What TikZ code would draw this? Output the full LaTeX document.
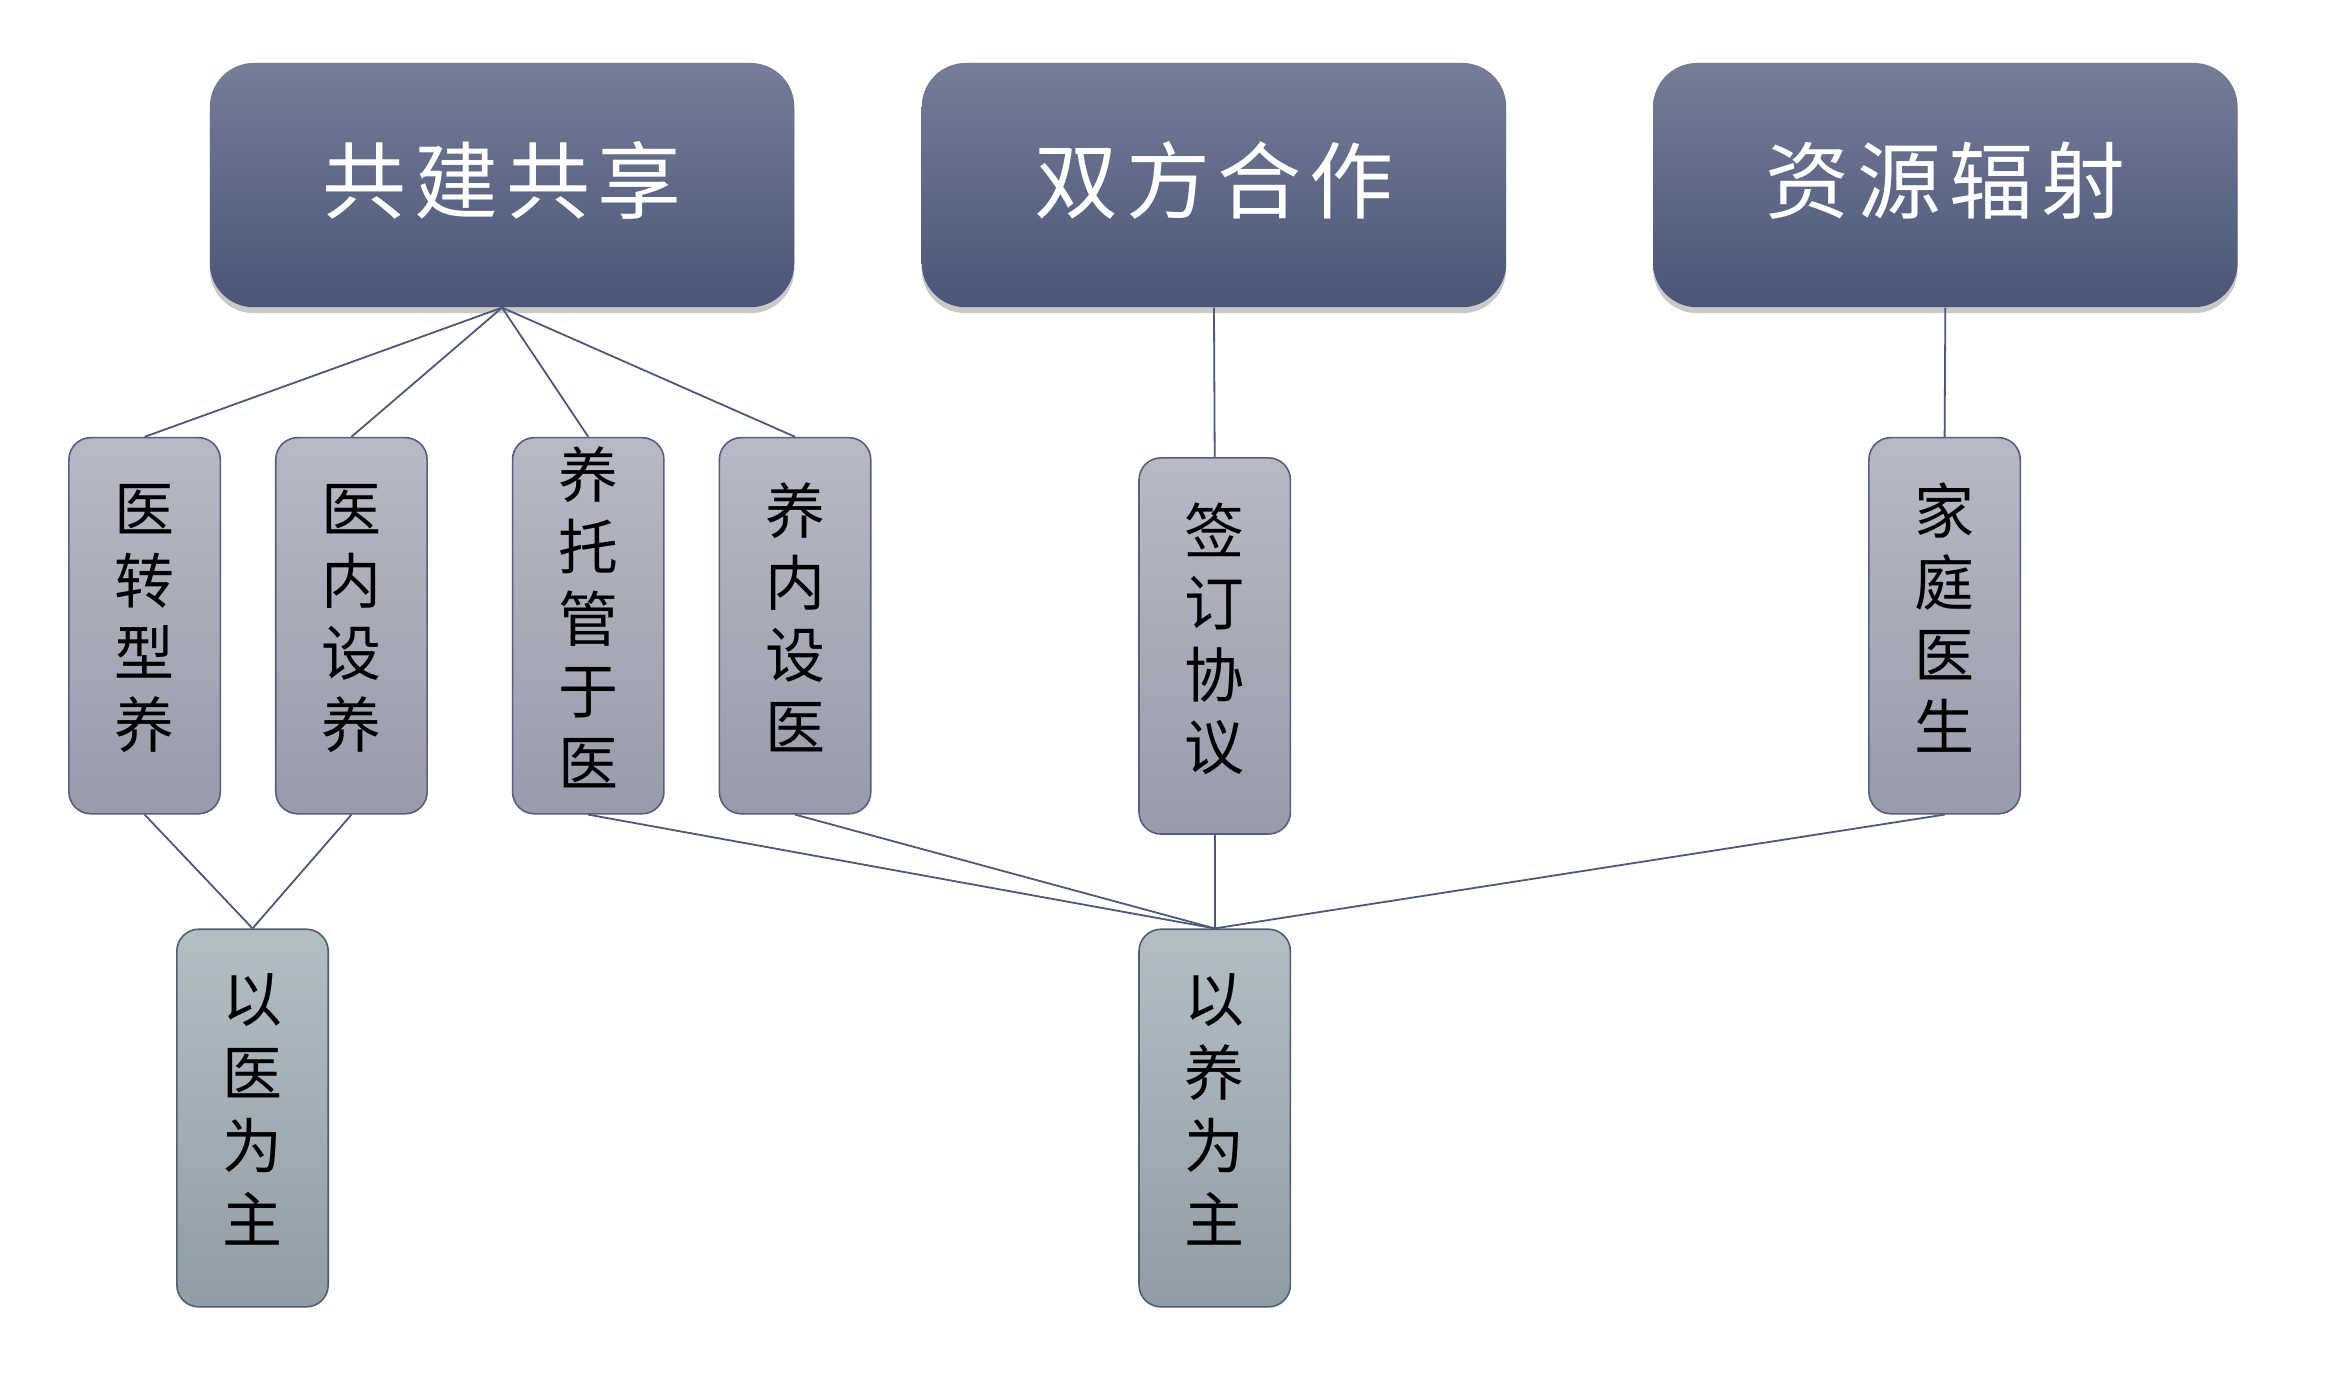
\documentclass[tikz,border=0pt]{standalone}
\usepackage{fontspec}
\newfontfamily\cjk{Noto Sans CJK SC}
\usetikzlibrary{shadows}
\definecolor{topA}{HTML}{757D97}
\definecolor{topB}{HTML}{4A5578}
\definecolor{midA}{HTML}{B7B9C5}
\definecolor{midB}{HTML}{989BAA}
\definecolor{botA}{HTML}{B3BDC4}
\definecolor{botB}{HTML}{919DA6}
\definecolor{midEdge}{HTML}{565F80}
\definecolor{botEdge}{HTML}{4E6070}
\definecolor{lineC}{HTML}{4E587A}
\tikzset{
  topbox/.style={rectangle, rounded corners=22pt, minimum width=292.5pt, minimum height=122.25pt,
    inner sep=0pt, top color=topA, bottom color=topB, draw=none,
    drop shadow={shadow xshift=0pt, shadow yshift=-3pt, opacity=0.35, fill=black!60},
    text=white, font=\cjk\fontsize{42}{50}\selectfont,
    execute at end node={\rule[-8pt]{0pt}{0pt}}},
  midbox/.style={rectangle, rounded corners=11pt, minimum width=75.75pt, minimum height=188.25pt,
    inner sep=0pt, top color=midA, bottom color=midB, draw=midEdge, line width=0.8pt,
    align=center, text=black, font=\cjk\fontsize{30}{36}\selectfont,
    execute at end node={\rule[-10pt]{0pt}{0pt}}},
  botbox/.style={midbox, top color=botA, bottom color=botB, draw=botEdge, minimum height=189pt,
    font=\cjk\fontsize{30}{36.8}\selectfont},
  conn/.style={draw=lineC, line width=0.9pt}
}
\newcommand{\ks}{\kern4pt}
\begin{document}
\begin{tikzpicture}[x=0.75pt,y=-0.75pt]
\fill[white] (0,0) rectangle (1568,916.8);
\useasboundingbox (0,0) rectangle (1568,916.8);

% top boxes
\node[topbox] (gj) at (335,123.5) {共\ks 建\ks 共\ks 享};
\node[topbox] (sf) at (810,123.5) {双\ks 方\ks 合\ks 作};
\node[topbox] (zy) at (1298,123.5) {资\ks 源\ks 辐\ks 射};

% middle boxes
\node[midbox] (m1) at (96.5,417.5) {医\\转\\型\\养};
\node[midbox] (m2) at (234.5,417.5) {医\\内\\设\\养};
\node[midbox] (m3) at (392.5,417.5) {养\\托\\管\\于\\医};
\node[midbox] (m4) at (530.5,417.5) {养\\内\\设\\医};
\node[midbox] (m5) at (810.5,431) {签\\订\\协\\议};
\node[midbox] (m6) at (1297.5,417.5) {家\\庭\\医\\生};

% bottom boxes
\node[botbox] (b1) at (168.5,746) {以\\医\\为\\主};
\node[botbox] (b2) at (810.5,746) {以\\养\\为\\主};

% connectors
\foreach \m in {m1,m2,m3,m4} \draw[conn] (gj.south) -- (\m.north);
\draw[conn] (sf.south) -- (m5.north);
\draw[conn] (zy.south) -- (m6.north);
\foreach \m in {m1,m2} \draw[conn] (\m.south) -- (b1.north);
\foreach \m in {m3,m4,m5,m6} \draw[conn] (\m.south) -- (b2.north);
\end{tikzpicture}
\end{document}
